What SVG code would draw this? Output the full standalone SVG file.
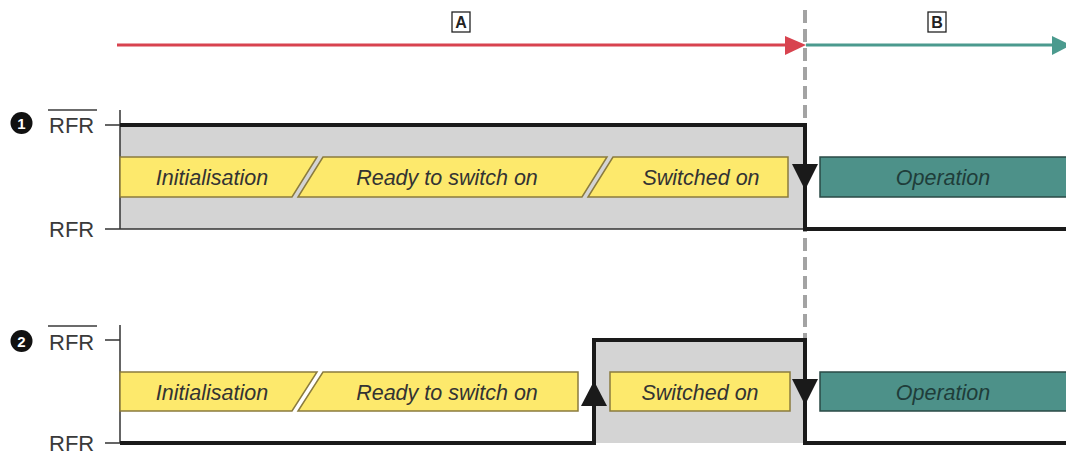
<svg xmlns="http://www.w3.org/2000/svg" width="1066" height="463" viewBox="0 0 1066 463">
<style>
.lbl{font-family:"Liberation Sans",Arial,sans-serif;font-size:22px;fill:#3a3a3a}
.st{font-family:"Liberation Sans",Arial,sans-serif;font-size:21.5px;font-style:italic;fill:#333;text-anchor:middle}
.op{font-family:"Liberation Sans",Arial,sans-serif;font-size:21.5px;font-style:italic;fill:#1f3d3a;text-anchor:middle}
.yel{fill:#fde96c;stroke:#8a7b3e;stroke-width:1.5}
.teal{fill:#4d9189;stroke:#2a4a46;stroke-width:1.5}
.grey{fill:#d4d4d4}
.thick{fill:none;stroke:#1a1a1a;stroke-width:4}
.thin{fill:none;stroke:#333;stroke-width:1.5}
.tri{fill:#1a1a1a}
.badge{font-family:"Liberation Sans",Arial,sans-serif;font-size:15px;font-weight:bold;fill:#fff;text-anchor:middle}
.box{fill:#fff;stroke:#222;stroke-width:1.3}
.boxt{font-family:"Liberation Sans",Arial,sans-serif;font-size:16px;font-weight:bold;fill:#222;text-anchor:middle}
</style>
<g id="timeline">
  <line x1="117" y1="45" x2="787" y2="45" stroke="#d8434f" stroke-width="3"/>
  <polygon points="785,36 785,55 806,45" fill="#d8434f"/>
  <line x1="806" y1="45" x2="1054" y2="45" stroke="#4b9a8e" stroke-width="3"/>
  <polygon points="1052,36 1052,55 1071,45" fill="#4b9a8e"/>
  <g id="labelA"><rect class="box" x="452" y="12" width="18" height="20"/><text class="boxt" x="461" y="28">A</text></g>
  <g id="labelB"><rect class="box" x="928" y="12" width="18" height="20"/><text class="boxt" x="937" y="28">B</text></g>
</g>
<g id="panel1">
  <rect class="grey" x="120" y="125" width="685" height="104"/>
  <circle cx="21.5" cy="123" r="11" fill="#111"/>
  <text class="badge" x="21.5" y="128.5">1</text>
  <text class="lbl" x="49" y="133">RFR</text>
  <line x1="48" y1="110" x2="97" y2="110" stroke="#3a3a3a" stroke-width="1.5"/>
  <text class="lbl" x="49" y="237">RFR</text>
  <path class="thin" d="M105,125 H120 M120,110 V229 M105,229 H805"/>
  <g id="p1-init"><path class="yel" d="M120,157 H317 L292,197 H120 Z"/><text class="st" x="212" y="185">Initialisation</text></g>
  <g id="p1-ready"><path class="yel" d="M323,157 H607 L582,197 H298 Z"/><text class="st" x="447" y="185">Ready to switch on</text></g>
  <g id="p1-on"><path class="yel" d="M613,157 H788 V197 H588 Z"/><text class="st" x="701" y="185">Switched on</text></g>
  <g id="p1-op"><rect class="teal" x="820" y="157" width="250" height="40"/><text class="op" x="943" y="185">Operation</text></g>
</g>
<g id="panel2">
  <rect class="grey" x="594" y="340" width="211" height="103"/>
  <circle cx="21.5" cy="341" r="11" fill="#111"/>
  <text class="badge" x="21.5" y="346.5">2</text>
  <text class="lbl" x="49" y="350">RFR</text>
  <line x1="48" y1="326" x2="97" y2="326" stroke="#3a3a3a" stroke-width="1.5"/>
  <text class="lbl" x="49" y="451">RFR</text>
  <path class="thin" d="M105,340 H120 M120,325 V443 M105,443 H120"/>
  <g id="p2-init"><path class="yel" d="M120,372 H317 L292,411 H120 Z"/><text class="st" x="212" y="400">Initialisation</text></g>
  <g id="p2-ready"><path class="yel" d="M323,372 H578 V411 H298 Z"/><text class="st" x="447" y="400">Ready to switch on</text></g>
  <g id="p2-on"><rect class="yel" x="610" y="372" width="180" height="39"/><text class="st" x="700" y="400">Switched on</text></g>
  <g id="p2-op"><rect class="teal" x="820" y="372" width="250" height="39"/><text class="op" x="943" y="400">Operation</text></g>
</g>
<g id="connectors">
  <line x1="805" y1="10" x2="805" y2="340" stroke="#a3a3a3" stroke-width="4" stroke-dasharray="13,6"/>
  <path class="thick" d="M120,125 H805 V229 H1070"/>
  <path class="thick" d="M120,443 H594 V340 H805 V443 H1070"/>
  <polygon class="tri" points="792,164 818,164 805,190"/>
  <polygon class="tri" points="792,379 818,379 805,405"/>
  <polygon class="tri" points="581,406 607,406 594,381"/>
</g>
</svg>
